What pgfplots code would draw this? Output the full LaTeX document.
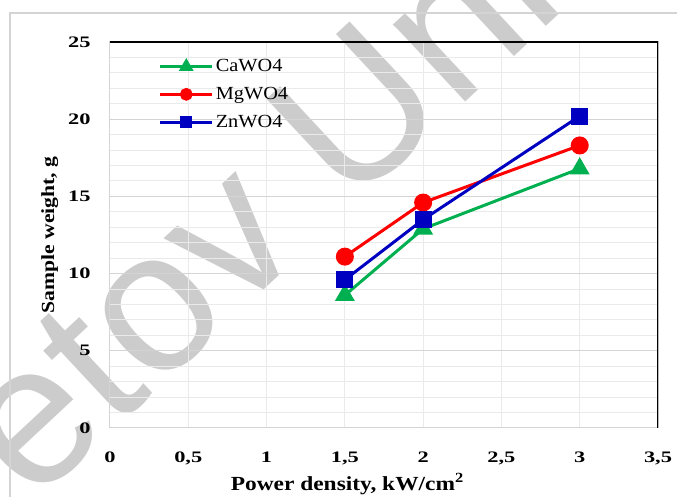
\documentclass[border=0pt]{standalone}
\usepackage{pgfplots}
\pgfplotsset{compat=1.18}
\usepackage{fontspec}
\setmainfont{Liberation Serif}
\newfontfamily\wmfont{Liberation Sans}
\newfontfamily\tickfont[FakeStretch=1.4]{Liberation Serif}
\newfontfamily\labfont[FakeStretch=1.17]{Liberation Serif}
\newfontfamily\legfont[FakeStretch=1.1]{Liberation Serif}
\definecolor{cgreen}{RGB}{0,176,80}
\definecolor{cred}{RGB}{255,0,0}
\definecolor{cblue}{RGB}{0,0,192}
\definecolor{wm}{RGB}{204,204,204}
\definecolor{gmaj}{RGB}{212,212,212}
\definecolor{gmin}{RGB}{234,234,234}
\pgfdeclarelayer{bg}
\pgfsetlayers{bg,main}
\begin{document}
\begin{tikzpicture}
\begin{axis}[
  name=ax,
  scale only axis, width=548pt, height=386pt,
  xmin=0, xmax=3.5, ymin=0, ymax=25,
  xtick={0,0.5,1,1.5,2,2.5,3,3.5},
  xticklabels={0,{0,5},1,{1,5},2,{2,5},3,{3,5}},
  ytick={0,5,10,15,20,25},
  minor y tick num=4,
  xmajorgrids, ymajorgrids, yminorgrids,
  major x grid style={gmin, line width=1pt},
  major y grid style={gmaj, line width=1pt},
  minor y grid style={gmin, line width=1pt},
  major tick length=0pt, minor tick length=0pt,
  axis line style={gmaj, line width=1pt},
  /pgf/number format/assume math mode=true,
  tick label style={font=\tickfont\bfseries\fontsize{16}{16}\selectfont},
  xticklabel style={yshift=-20pt},
  yticklabel style={xshift=-16pt},
  xlabel={Power density, kW/cm\textsuperscript{2}},
  xlabel style={at={(axis description cs:0.433,-0.145)}, anchor=center,
    font=\labfont\bfseries\fontsize{20}{20}\selectfont},
  ylabel={Sample weight, g},
  ylabel style={at={(axis description cs:-0.11,0.5)}, anchor=center,
    font=\labfont\bfseries\fontsize{18.5}{18.5}\selectfont},
  legend style={at={(rel axis cs:0.085,0.965)}, anchor=north west,
    draw=none, fill=none, font=\legfont\fontsize{18.5}{18.5}\selectfont,
    row sep=10pt, inner sep=2pt},
  legend cell align=left,
  legend image code/.code={
    \draw[#1, line width=3pt] (0pt,0pt) -- (52pt,0pt);
    \draw[#1, mark options={scale=0.65}] plot coordinates {(26pt,0pt)};
  },
]
\addplot[cgreen, line width=3pt, mark=triangle*, mark size=8.5pt, mark options={solid}]
  coordinates {(1.5,8.6) (2,12.9) (3,16.8)};
\addlegendentry{CaWO4}
\addplot[cred, line width=3pt, mark=*, mark size=7.5pt, mark options={solid}]
  coordinates {(1.5,11.1) (2,14.6) (3,18.3)};
\addlegendentry{MgWO4}
\addplot[cblue, line width=3pt, mark=square*, mark size=7pt, mark options={solid}]
  coordinates {(1.5,9.6) (2,13.5) (3,20.2)};
\addlegendentry{ZnWO4}
\draw[black, line width=1.2pt] (rel axis cs:0,1) -- (rel axis cs:1,1) -- (rel axis cs:1,0);
\end{axis}
\coordinate (O) at ([xshift=-110pt,yshift=-69pt]ax.south west);
\begin{pgfonlayer}{bg}
\begin{scope}[shift={(O)}, x=1pt, y=1pt]
\node[overlay, rotate=43, anchor=base west, inner sep=0pt, text=wm,
      font=\wmfont\fontsize{200}{200}\selectfont] at (32.5,-9) {etov Uni};
\draw[overlay, gmaj, line width=1.5pt] (10,-30) -- (10,484) -- (700,484);
\end{scope}
\end{pgfonlayer}
\pgfresetboundingbox
\path[use as bounding box] (O) rectangle ++(677pt,497pt);
\end{tikzpicture}
\end{document}
